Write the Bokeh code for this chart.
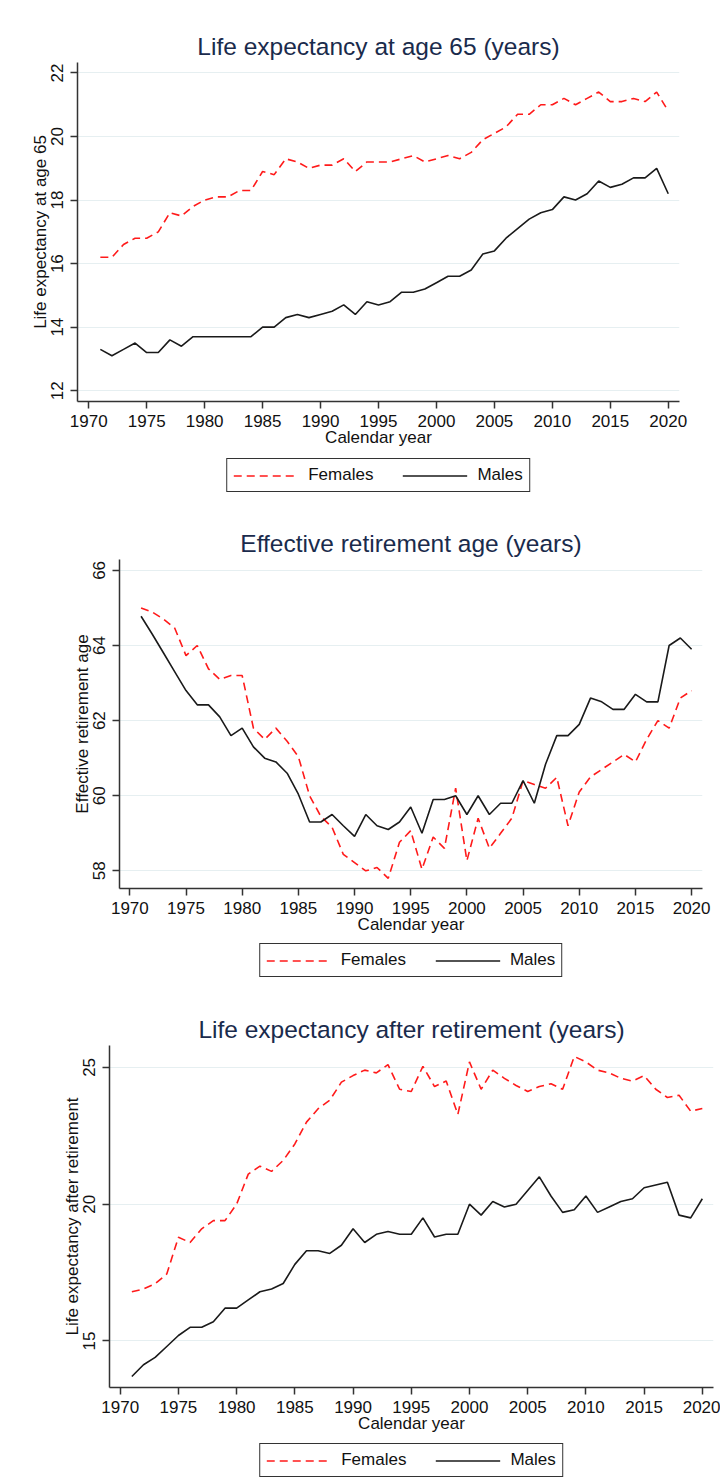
from bokeh.plotting import figure
from bokeh.models import Range1d, Legend, LegendItem, FixedTicker
from bokeh.embed import file_html
from bokeh.resources import INLINE

years = list(range(1971, 2021))
x_ticks = [1970, 1975, 1980, 1985, 1990, 1995, 2000, 2005, 2010, 2015, 2020]

le65_females = [16.2, 16.2, 16.6, 16.8, 16.8, 17.0, 17.6, 17.5, 17.8, 18.0,
                18.1, 18.1, 18.3, 18.3, 18.9, 18.8, 19.3, 19.2, 19.0, 19.1,
                19.1, 19.3, 18.9, 19.2, 19.2, 19.2, 19.3, 19.4, 19.2, 19.3,
                19.4, 19.3, 19.5, 19.9, 20.1, 20.3, 20.7, 20.7, 21.0, 21.0,
                21.2, 21.0, 21.2, 21.4, 21.1, 21.1, 21.2, 21.1, 21.4, 20.8]
le65_males = [13.3, 13.1, 13.3, 13.5, 13.2, 13.2, 13.6, 13.4, 13.7, 13.7,
              13.7, 13.7, 13.7, 13.7, 14.0, 14.0, 14.3, 14.4, 14.3, 14.4,
              14.5, 14.7, 14.4, 14.8, 14.7, 14.8, 15.1, 15.1, 15.2, 15.4,
              15.6, 15.6, 15.8, 16.3, 16.4, 16.8, 17.1, 17.4, 17.6, 17.7,
              18.1, 18.0, 18.2, 18.6, 18.4, 18.5, 18.7, 18.7, 19.0, 18.2]

ret_females = [65.0, 64.89, 64.7, 64.46, 63.73, 64.0, 63.38, 63.1, 63.2, 63.2,
               61.8, 61.5, 61.8, 61.45, 61.04, 60.0, 59.45, 59.16, 58.44, 58.22,
               58.0, 58.09, 57.8, 58.76, 59.07, 58.04, 58.9, 58.6, 60.2, 58.27,
               59.4, 58.6, 59.0, 59.4, 60.4, 60.3, 60.2, 60.49, 59.2, 60.1,
               60.5, 60.7, 60.9, 61.1, 60.9, 61.5, 62.0, 61.8, 62.6, 62.8]
ret_males = [64.78, 64.3, 63.8, 63.3, 62.8, 62.42, 62.42, 62.1, 61.6, 61.8,
             61.3, 61.0, 60.9, 60.6, 60.04, 59.3, 59.3, 59.5, 59.2, 58.92,
             59.5, 59.2, 59.1, 59.3, 59.7, 59.0, 59.9, 59.9, 60.0, 59.5,
             60.0, 59.5, 59.8, 59.8, 60.4, 59.8, 60.84, 61.6, 61.6, 61.9,
             62.6, 62.5, 62.3, 62.3, 62.7, 62.5, 62.5, 64.0, 64.2, 63.9]

afr_females = [16.8, 16.9, 17.09, 17.45, 18.79, 18.6, 19.1, 19.4, 19.4, 20.0,
               21.1, 21.39, 21.2, 21.6, 22.2, 23.0, 23.49, 23.8, 24.46, 24.7,
               24.9, 24.8, 25.1, 24.2, 24.12, 25.04, 24.3, 24.5, 23.28, 25.2,
               24.2, 24.9, 24.6, 24.34, 24.12, 24.3, 24.4, 24.2, 25.4, 25.2,
               24.9, 24.8, 24.6, 24.5, 24.7, 24.2, 23.9, 23.98, 23.4, 23.5]
afr_males = [13.7, 14.13, 14.4, 14.8, 15.2, 15.5, 15.5, 15.7, 16.2, 16.2,
             16.5, 16.8, 16.9, 17.1, 17.8, 18.3, 18.3, 18.2, 18.5, 19.1,
             18.6, 18.9, 19.0, 18.9, 18.9, 19.5, 18.8, 18.9, 18.9, 20.0,
             19.6, 20.1, 19.9, 20.0, 20.5, 21.0, 20.3, 19.7, 19.8, 20.3,
             19.7, 19.9, 20.1, 20.2, 20.6, 20.7, 20.8, 19.6, 19.5, 20.2]

legend_labels = ["Females", "Males"]

FONT = "Liberation Sans"
AXC = "#333333"
TXT = "#111111"
RED = "#ff1a1a"
BLK = "#1a1a1a"
W = 720


def make_panel(title, ylabel, yf, ym, xr, yr, yticks, height, borders):
    bl, br, bt, bb = borders
    p = figure(width=W, height=height, output_backend="svg", toolbar_location=None,
               x_range=Range1d(*xr), y_range=Range1d(*yr),
               min_border_left=bl, min_border_right=br,
               min_border_top=bt, min_border_bottom=bb)
    p.outline_line_color = None
    p.title.text = title
    p.title.align = "center"
    p.title.text_font = FONT
    p.title.text_font_size = "24.5px"
    p.title.text_font_style = "normal"
    p.title.text_color = "#1a2b4c"
    p.title.standoff = 6

    p.line(years, yf, line_color=RED, line_width=1.6, line_dash="8 5")
    p.line(years, ym, line_color=BLK, line_width=1.6)

    p.xgrid.visible = False
    p.ygrid.grid_line_color = "#e6eff1"
    p.ygrid.grid_line_width = 1.2

    for ax in (p.xaxis[0], p.yaxis[0]):
        ax.axis_line_color = AXC
        ax.axis_line_width = 1.5
        ax.major_tick_line_color = AXC
        ax.major_tick_line_width = 1.5
        ax.major_tick_out = 7
        ax.major_tick_in = 0
        ax.minor_tick_line_color = None
        ax.major_label_text_font = FONT
        ax.major_label_text_font_size = "17px"
        ax.major_label_text_color = TXT
        ax.axis_label_text_font = FONT
        ax.axis_label_text_font_size = "17px"
        ax.axis_label_text_font_style = "normal"
        ax.axis_label_text_color = TXT

    p.xaxis.major_label_standoff = 6
    p.xaxis.axis_label_standoff = -2
    p.yaxis.major_label_standoff = 7
    p.yaxis.axis_label_standoff = -1

    p.xaxis.ticker = FixedTicker(ticks=x_ticks)
    p.yaxis.ticker = FixedTicker(ticks=yticks)
    p.xaxis.axis_label = "Calendar year"
    p.yaxis.axis_label = ylabel
    p.yaxis.major_label_orientation = "vertical"
    return p


def make_legend(height, bl, br, top, yf, ym):
    # legend strip below each panel; its lines lie outside the strip's
    # ranges so only their legend swatches are seen
    q = figure(width=W, height=height, output_backend="svg", toolbar_location=None,
               title=None, x_axis_location=None, y_axis_location=None,
               x_range=Range1d(0, 1), y_range=Range1d(0, 1),
               min_border_left=bl, min_border_right=br,
               min_border_top=0, min_border_bottom=0)
    q.outline_line_color = None
    q.grid.visible = False
    rf = q.line(years, yf, line_color=RED, line_width=1.6, line_dash="8 5")
    rm = q.line(years, ym, line_color=BLK, line_width=1.6)
    legend = Legend(items=[LegendItem(label=legend_labels[0], renderers=[rf]),
                           LegendItem(label=legend_labels[1], renderers=[rm])],
                    orientation="horizontal", location="top_center",
                    glyph_width=65, glyph_height=17, label_height=17,
                    label_standoff=10, spacing=29, padding=6, margin=top,
                    label_text_font=FONT, label_text_font_size="17px",
                    label_text_color=TXT,
                    border_line_color=AXC, border_line_width=1.2,
                    border_line_alpha=1.0,
                    background_fill_color="white", background_fill_alpha=1)
    q.add_layout(legend)
    return q


p1 = make_panel("Life expectancy at age 65 (years)", "Life expectancy at age 65",
                le65_females, le65_males, (1969.03, 2020.97), (11.66, 22.33),
                [12, 14, 16, 18, 20, 22], 452, (77, 41, 62, 51))
l1 = make_legend(53, 77, 41, 6, le65_females, le65_males)
p2 = make_panel("Effective retirement age (years)", "Effective retirement age",
                ret_females, ret_males, (1969.08, 2020.97), (57.53, 66.29),
                [58, 60, 62, 64, 66], 435, (119, 18, 54, 52))
l2 = make_legend(45, 119, 18, 3, ret_females, ret_males)
p3 = make_panel("Life expectancy after retirement (years)", "Life expectancy after retirement",
                afr_females, afr_males, (1969.08, 2020.96), (13.3, 25.8),
                [15, 20, 25], 454, (109, 7, 60, 52))
l3 = make_legend(40, 109, 7, 4, afr_females, afr_males)

open("out.html", "w").write(file_html([p1, l1, p2, l2, p3, l3], INLINE))
